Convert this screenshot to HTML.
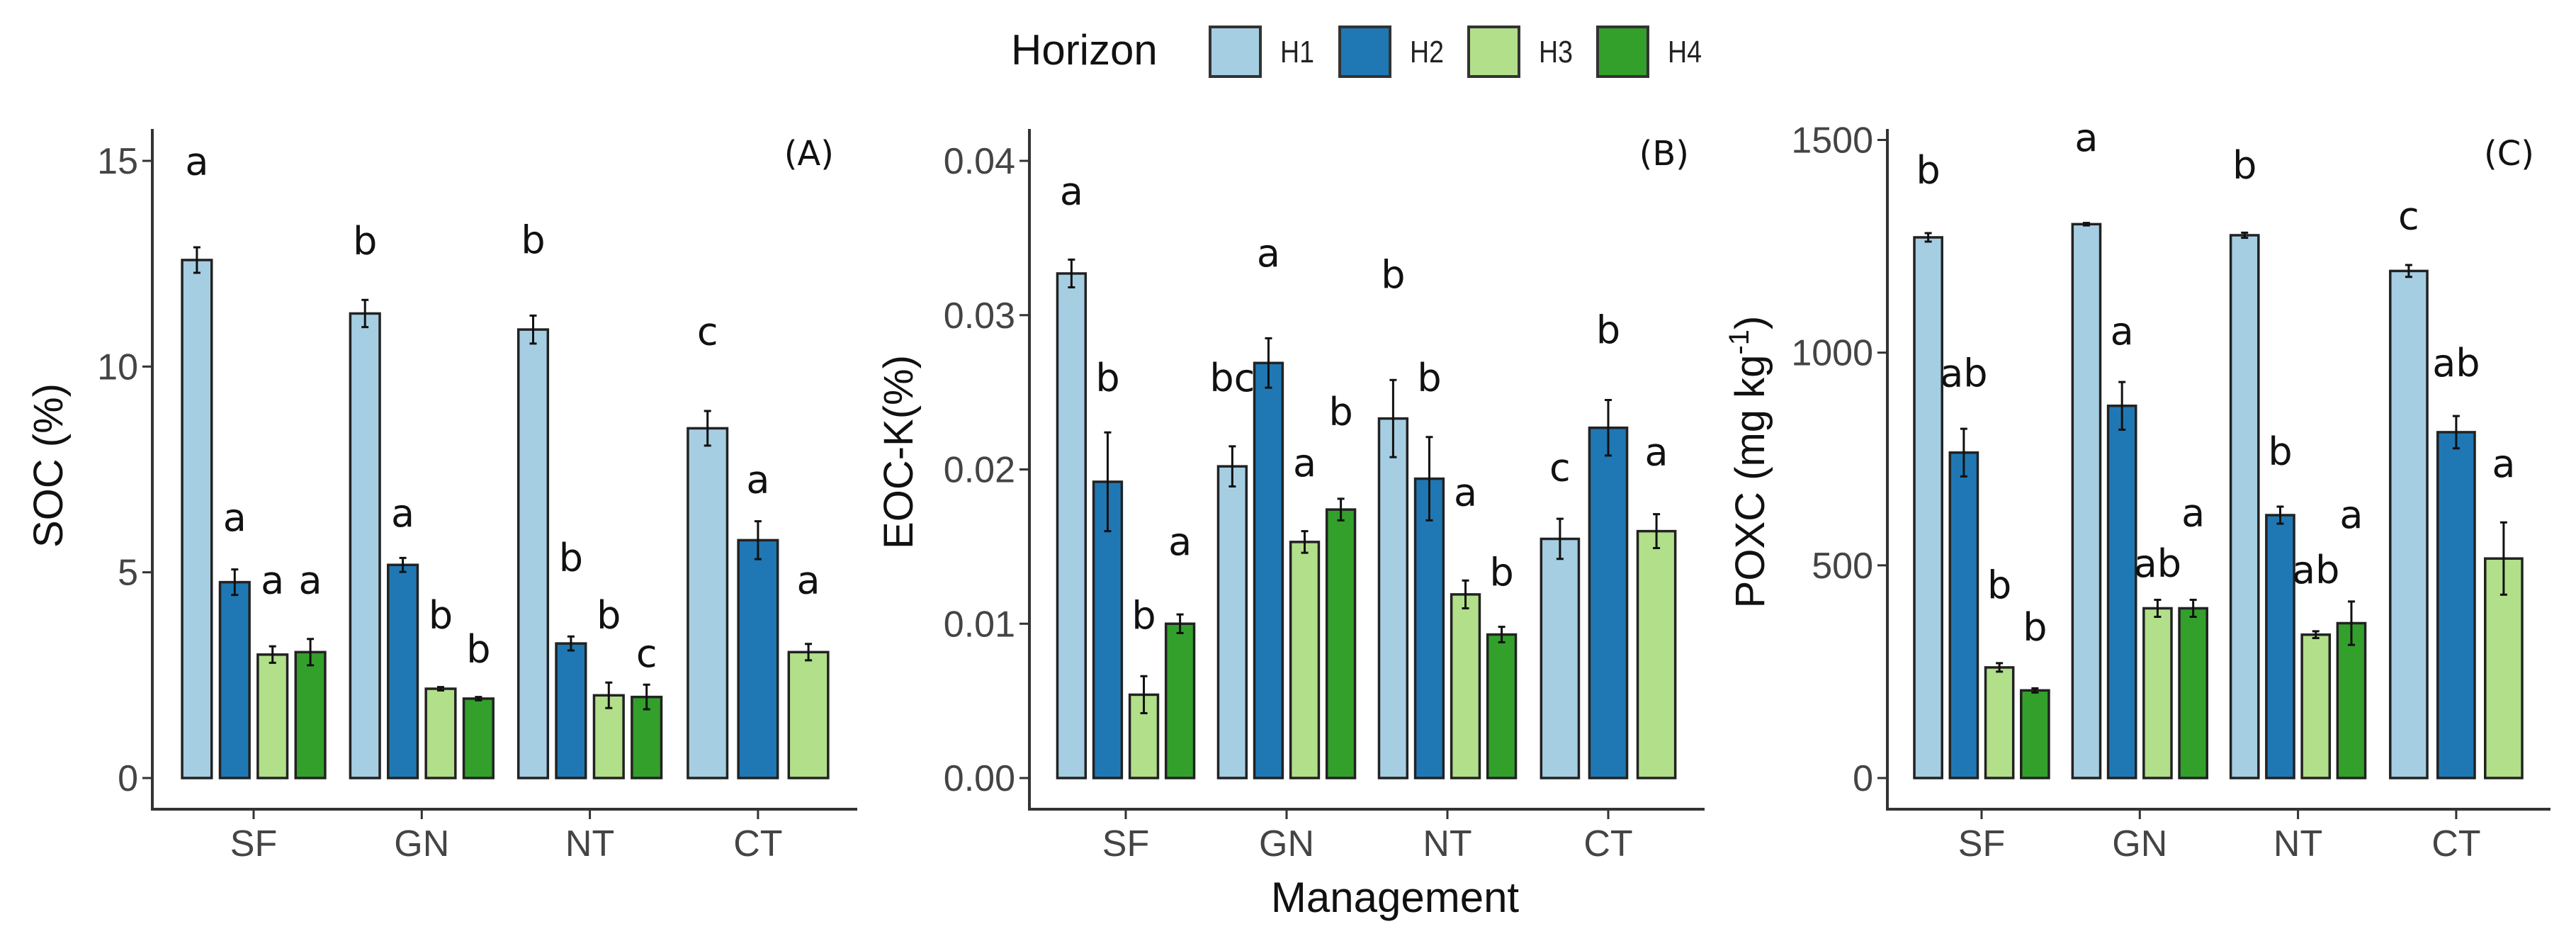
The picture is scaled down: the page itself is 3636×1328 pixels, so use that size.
<!DOCTYPE html>
<html><head><meta charset="utf-8"><style>
html,body{margin:0;padding:0;background:#fff;}
svg{display:block;font-family:"Liberation Sans",sans-serif;}
</style></head><body>
<svg id="chart" width="3636" height="1328" viewBox="0 0 3636 1328" xmlns="http://www.w3.org/2000/svg">
<g id="legend">
  <text x="1427" y="91" font-size="60" fill="#111">Horizon</text>
</g>
</svg>
<script>
const categories = ["SF","GN","NT","CT"];
const horizons = ["H1","H2","H3","H4"];
const colors = ["#A6CEE3","#1F78B4","#B2DF8A","#33A02C"];

const socValues = [[12.59,4.76,3.0,3.06],[11.29,5.18,2.17,1.93],[10.9,3.27,2.01,1.97],[8.5,5.78,3.06]];
const socErrors = [[0.31,0.31,0.2,0.32],[0.33,0.17,0.04,0.04],[0.34,0.17,0.31,0.3],[0.42,0.46,0.2]];
const socLetters = [["a","a","a","a"],["b","a","b","b"],["b","b","b","c"],["c","a","a"]];
const socLetterY = [[14.94,6.29,4.76,4.76],[13.0,6.39,3.91,3.08],[13.03,5.30,3.91,2.98],[10.81,7.21,4.76]];
const socTicks = [0,5,10,15];

const eocValues = [[0.0327,0.0192,0.0054,0.0100],[0.0202,0.0269,0.0153,0.0174],[0.0233,0.0194,0.0119,0.0093],[0.0155,0.0227,0.0160]];
const eocErrors = [[0.0009,0.0032,0.0012,0.0006],[0.0013,0.0016,0.0007,0.0007],[0.0025,0.0027,0.0009,0.0005],[0.0013,0.0018,0.0011]];
const eocLetters = [["a","b","b","a"],["bc","a","a","b"],["b","b","a","b"],["c","b","a"]];
const eocLetterY = [[0.0379,0.0258,0.0104,0.0152],[0.0258,0.0339,0.0203,0.0236],[0.0325,0.0258,0.0184,0.0132],[0.0200,0.0289,0.0210]];
const eocTicks = [0,0.01,0.02,0.03,0.04];
const eocTickLabels = ["0.00","0.01","0.02","0.03","0.04"];

const poxValues = [[1271,765,260,206],[1302,875,399,399],[1276,618,337,364],[1192,813,516]];
const poxErrors = [[10,56,10,5],[3,56,20,20],[6,20,8,51],[14,38,85]];
const poxLetters = [["b","ab","b","b"],["a","a","ab","a"],["b","b","ab","a"],["c","ab","a"]];
const poxLetterY = [[1424,947,449,350],[1501,1046,500,619],[1436,763,485,615],[1317,971,735]];
const poxTicks = [0,500,1000,1500];

const NS = "http://www.w3.org/2000/svg";
const svg = document.getElementById("chart");
function mk(tag, attrs, parent){
  const e = document.createElementNS(NS, tag);
  for (const k in attrs) e.setAttribute(k, attrs[k]);
  (parent||svg).appendChild(e);
  return e;
}

function panel(cfg){
  const g = mk("g", {});
  
  
  const yScale = v => cfg.zeroY - (v - 0) / cfg.topVal * (cfg.zeroY - cfg.topY);
  const xScale = i => cfg.firstCat + i * cfg.catStep;
  // axes
  const ya = mk("line", {x1:cfg.axisX, y1:182, x2:cfg.axisX, y2:1143, stroke:"#333", "stroke-width":4}, g);
  
  
  const xa = mk("line", {x1:cfg.axisX-2, y1:1142, x2:cfg.rightX, y2:1142, stroke:"#333", "stroke-width":4}, g);
  
  
  cfg.ticks.forEach((t, i) => {
    const y = yScale(t);
    const tk = mk("line", {x1:cfg.axisX-14, y1:y, x2:cfg.axisX, y2:y, stroke:"#333", "stroke-width":3}, g);
    
    
    const tl = mk("text", {x:cfg.axisX-20, y:y+18, "font-size":52, fill:"#444", "text-anchor":"end"}, g);
    tl.textContent = cfg.tickLabels ? cfg.tickLabels[i] : String(t);
    
    
  });
  categories.forEach((c, ci) => {
    const x = xScale(ci);
    const tk = mk("line", {x1:x, y1:1142, x2:x, y2:1156, stroke:"#333", "stroke-width":3}, g);
    
    
    const tl = mk("text", {x:x, y:1208, "font-size":52, fill:"#444", "text-anchor":"middle"}, g);
    tl.textContent = c;
    
    
    const vals = cfg.values[ci];
    const n = vals.length;
    const dodge = cfg.catStep * 0.9;
    const pitch = dodge / n;
    const bw = pitch * 0.78;
    vals.forEach((v, hi) => {
      const cx = x - dodge/2 + pitch*(hi+0.5);
      const yt = yScale(v), y0 = yScale(0);
      const r = mk("rect", {x:cx-bw/2, y:yt, width:bw, height:y0-yt, fill:colors[hi], stroke:"#222", "stroke-width":3.5}, g);
      
      
      const e = cfg.errors[ci][hi];
      const ey1 = yScale(v + e), ey2 = yScale(v - e);
      const eb = mk("path", {d:`M${cx-5},${ey1}H${cx+5}M${cx},${ey1}V${ey2}M${cx-5},${ey2}H${cx+5}`, stroke:"#111", "stroke-width":3, fill:"none"}, g);
      
      
      const lt = mk("text", {x:cx, y:yScale(cfg.letterY[ci][hi])+16, "font-size":54, fill:"#111", "text-anchor":"middle", "font-family":"DejaVu Sans, Liberation Sans, sans-serif"}, g);
      lt.textContent = cfg.letters[ci][hi];
      
      
    });
  });
  const pl = mk("text", {x:cfg.tagX, y:233, "font-size":48, fill:"#111", "text-anchor":"end", "font-family":"DejaVu Sans, Liberation Sans, sans-serif"}, g);
  pl.textContent = cfg.tag;
  
  
  const yt = mk("text", {x:0, y:0, "font-size":cfg.titleSize, fill:"#111", "text-anchor":"middle", transform:`translate(${cfg.titleX},${cfg.titleY}) rotate(-90)`}, g);
  yt.innerHTML = cfg.title;
  
  
}

panel({name:"panel-soc", axisX:215, rightX:1210, zeroY:1098, topY:227, topVal:15, firstCat:358, catStep:237.3,
  ticks:socTicks, values:socValues, errors:socErrors, letters:socLetters, letterY:socLetterY,
  tag:"(A)", tagX:1177, title:"SOC (%)", titleX:88, titleY:657, titleSize:58});
panel({name:"panel-eoc", axisX:1453, rightX:2406, zeroY:1098, topY:227, topVal:0.04, firstCat:1589, catStep:227,
  ticks:eocTicks, tickLabels:eocTickLabels, values:eocValues, errors:eocErrors, letters:eocLetters, letterY:eocLetterY,
  tag:"(B)", tagX:2384, title:"EOC-K(%)", titleX:1288, titleY:638, titleSize:58});
panel({name:"panel-poxc", axisX:2664, rightX:3600, zeroY:1098, topY:197.5, topVal:1500, firstCat:2797, catStep:223.3,
  ticks:poxTicks, values:poxValues, errors:poxErrors, letters:poxLetters, letterY:poxLetterY,
  tag:"(C)", tagX:3577, title:'POXC (mg kg<tspan dy="-22" font-size="40">-1</tspan><tspan dy="22">)</tspan>', titleX:2490, titleY:652, titleSize:58});

const mt = mk("text", {x:1969, y:1287, "font-size":60, fill:"#111", "text-anchor":"middle"});
mt.textContent = "Management";



const legend = document.getElementById("legend");
const keyX = [1708, 1891, 2073, 2255];
horizons.forEach((h, i) => {
  const r = mk("rect", {x:keyX[i], y:38, width:71, height:70, fill:colors[i], stroke:"#333", "stroke-width":4}, legend);
  
  
  const t = mk("text", {x:keyX[i]+99, y:88, "font-size":44, fill:"#222", textLength:48, lengthAdjust:"spacingAndGlyphs"}, legend);
  t.textContent = h;
  
  
});
</script>
</body></html>
